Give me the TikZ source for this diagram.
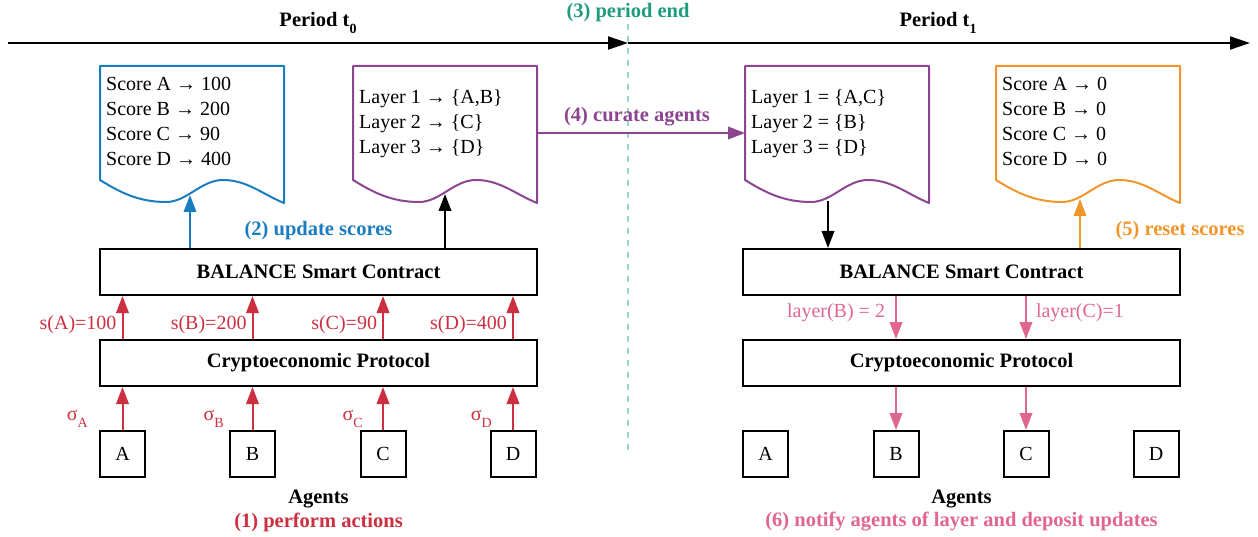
\documentclass[tikz,border=0pt]{standalone}
\usepackage{fontspec}
\setmainfont{Liberation Serif}
\usetikzlibrary{arrows.meta,calc}
\definecolor{cblue}{HTML}{1A7DC0}
\definecolor{cpurple}{HTML}{8C4691}
\definecolor{cred}{HTML}{CC3040}
\definecolor{cpink}{HTML}{E1668E}
\definecolor{corange}{HTML}{F0962B}
\definecolor{cteal}{HTML}{1F9C80}
\definecolor{cteallight}{HTML}{9BD5C5}
\newcommand{\subt}[1]{\raisebox{-0.32em}{\fontsize{14}{14}\selectfont #1}}
\tikzset{
  docpic/.pic={\draw[line width=2pt, line join=round] (0,0) -- (184,0) -- (184,137)
     .. controls (162,128) and (147,114) .. (123,114)
     .. controls (101,114) and (87,136) .. (66,136)
     .. controls (37,136) and (18,125) .. (0,114) -- cycle;}
}
\begin{document}
\begin{tikzpicture}[x=1pt,y=-1pt,
  every node/.style={font=\fontsize{20}{25}\selectfont, inner sep=0pt},
  lbl/.style={font=\fontsize{20.5}{25}\selectfont\bfseries},
  box/.style={draw, line width=2pt, minimum width=437pt, minimum height=46pt, font=\fontsize{20.5}{25}\selectfont\bfseries},
  agent/.style={draw, line width=2pt, minimum width=45pt, minimum height=46pt},
  arr/.style={line width=2pt, -{Triangle[length=17pt,width=12.5pt]}},
  tl/.style={line width=2pt, -{Triangle[length=20pt,width=13pt]}},
  doctext/.style={anchor=north west, align=left}
]
\useasboundingbox (0,0) rectangle (1258,537);

% timeline
\coordinate (tlS) at (8,43);
\coordinate (tlM) at (628,43);
\coordinate (tlE) at (1250,43);
\draw[tl] (tlS) -- (tlM);
\draw[tl] (tlM) -- (tlE);
\node[lbl] (p0) at (318,23) {Period t\subt{0}};
\node[lbl] (p1) at (938,23) {Period t\subt{1}};
\node[lbl, text=cteal] (pend) at (628,13) {(3) period end};
\coordinate (peT) at (628,24);
\coordinate (peB) at (628,456);
\draw[cteallight, line width=2pt, dash pattern=on 6pt off 6pt] (peT) -- (peB);

% documents
\pic[cblue] at (100,66) {docpic};
\pic[cpurple] at (353,66) {docpic};
\pic[cpurple] at (745,66) {docpic};
\pic[corange] at (996,66) {docpic};
\node[doctext] (scoresL) at (106,72.5) {\strut Score A → 100\\Score B → 200\\Score C → 90\\Score D → 400};
\node[doctext] (layersL) at (359,85.5) {\strut Layer 1 → \{A,B\}\\Layer 2 → \{C\}\\Layer 3 → \{D\}};
\node[doctext] (layersR) at (751,85.5) {\strut Layer 1 = \{A,C\}\\Layer 2 = \{B\}\\Layer 3 = \{D\}};
\node[doctext] (scoresR) at (1002,72.5) {\strut Score A → 0\\Score B → 0\\Score C → 0\\Score D → 0};

% boxes
\node[box] (balL) at (318.5,272) {BALANCE Smart Contract};
\node[box] (cpL) at (318.5,363) {Cryptoeconomic Protocol};
\node[box] (balR) at (961.5,272) {BALANCE Smart Contract};
\node[box] (cpR) at (961.5,363) {Cryptoeconomic Protocol};

\node[agent] (aA) at (122.5,454) {A};
\node[agent] (aB) at (252.5,454) {B};
\node[agent] (aC) at (383,454) {C};
\node[agent] (aD) at (513,454) {D};
\node[agent] (rA) at (765.5,454) {A};
\node[agent] (rB) at (896,454) {B};
\node[agent] (rC) at (1026,454) {C};
\node[agent] (rD) at (1156,454) {D};

\node[lbl] (agL) at (318.5,499) {Agents};
\node[lbl, text=cred] (actL) at (318.5,522) {(1) perform actions};
\node[lbl] (agR) at (961.5,499) {Agents};
\node[lbl, text=cpink] (actR) at (961.5,522) {(6) notify agents of layer and deposit updates};

% left red arrows
\foreach \a/\s in {aA/A,aB/B,aC/C,aD/D}{
  \draw[arr, cred] (\a.north) -- (\a |- cpL.south);
}
\draw[arr, cred] (aA |- cpL.north) -- (aA |- balL.south) node[pos=0.33, anchor=east, xshift=-5pt] (sA) {s(A)=100};
\draw[arr, cred] (aB |- cpL.north) -- (aB |- balL.south) node[pos=0.33, anchor=east, xshift=-5pt] (sB) {s(B)=200};
\draw[arr, cred] (aC |- cpL.north) -- (aC |- balL.south) node[pos=0.33, anchor=east, xshift=-5pt] (sC) {s(C)=90};
\draw[arr, cred] (aD |- cpL.north) -- (aD |- balL.south) node[pos=0.33, anchor=east, xshift=-5pt] (sD) {s(D)=400};
\node[text=cred, anchor=east] (gA) at (88,419) {σ\subt{A}};
\node[text=cred, anchor=east] (gB) at (224,419) {σ\subt{B}};
\node[text=cred, anchor=east] (gC) at (363,419) {σ\subt{C}};
\node[text=cred, anchor=east] (gD) at (492,419) {σ\subt{D}};

% update scores
\coordinate (wL) at (190,195);
\draw[arr, cblue] (balL.north -| wL) -- (wL);
\node[lbl, text=cblue] (upd) at (318.5,231) {(2) update scores};
\coordinate (wLL) at (445,194);
\draw[arr] (balL.north -| wLL) -- (wLL);

% curate
\coordinate (curS) at (537,133);
\coordinate (curE) at (745,133);
\draw[arr, cpurple] (curS) -- (curE);
\node[lbl, text=cpurple] (cur) at (637,117) {(4) curate agents};

% right side
\coordinate (wRL) at (828,201);
\draw[arr] (wRL) -- (wRL |- balR.north);
\coordinate (wRO) at (1080,199);
\draw[arr, corange] (balR.north -| wRO) -- (wRO);
\node[lbl, text=corange] (rst) at (1180,231) {(5) reset scores};

\draw[arr, cpink] (rB |- balR.south) -- (rB |- cpR.north) node[pos=0.4, anchor=east, xshift=-10pt] (lB) {layer(B) = 2};
\draw[arr, cpink] (rC |- balR.south) -- (rC |- cpR.north) node[pos=0.4, anchor=west, xshift=9pt] (lC) {layer(C)=1};
\draw[arr, cpink] (rB |- cpR.south) -- (rB.north);
\draw[arr, cpink] (rC |- cpR.south) -- (rC.north);
\end{tikzpicture}
\end{document}
